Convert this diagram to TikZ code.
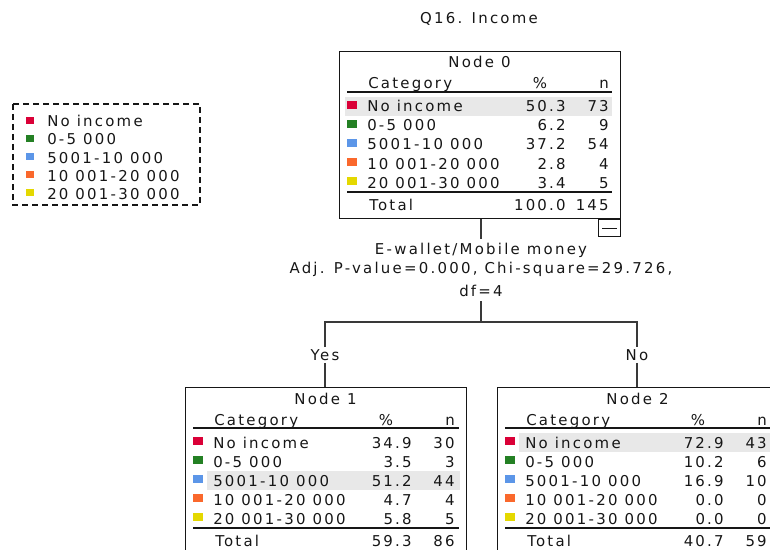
\documentclass[tikz,border=0pt]{standalone}
\usepackage{fontspec}
\newfontfamily\spssfont{DejaVu Sans}[LetterSpace=15]
\usetikzlibrary{positioning}

\definecolor{cNo}{RGB}{218,0,55}
\definecolor{cLow}{RGB}{36,128,36}
\definecolor{cMid}{RGB}{92,150,232}
\definecolor{cHigh}{RGB}{250,104,44}
\definecolor{cTop}{RGB}{228,216,0}
\definecolor{hl}{RGB}{232,232,232}
\definecolor{ink}{RGB}{22,22,22}

\tikzset{
    txt/.style={font=\spssfont\fontsize{11.2}{12}\selectfont, text=ink, inner sep=0pt},
    lab/.style={txt, anchor=base west},
    num/.style={txt, anchor=base east},
    mid/.style={txt, anchor=base},
    rule/.style={draw=ink, line width=1pt},
    link/.style={draw=ink!85, line width=1.1pt},
    treebox/.style={draw=ink, line width=1pt, inner sep=0pt, anchor=north west,
        minimum width=210.75pt, minimum height=125.25pt},
}

\begin{document}
\begin{tikzpicture}[x=0.75pt, y=-0.75pt]
    \useasboundingbox (0,0) rectangle (770,549);

    %%title
    \node[mid] (title) at (479,24) {Q16. Income};

    %%legend
    \draw[ink, line width=0.8pt, dash pattern=on 4.5pt off 3pt] (13,104) rectangle (200,205);
    \fill[cNo] (26,117) rectangle (34,124);
    \node[lab] (lg1) at (47,127) {No income};
    \fill[cLow] (26,135) rectangle (34,142);
    \node[lab] (lg2) at (47,145) {0-5 000};
    \fill[cMid] (26,153) rectangle (34,160);
    \node[lab] (lg3) at (47,163) {5001-10 000};
    \fill[cHigh] (26,171) rectangle (34,178);
    \node[lab] (lg4) at (47,181) {10 001-20 000};
    \fill[cTop] (26,189) rectangle (34,196);
    \node[lab] (lg5) at (47,199) {20 001-30 000};

    %%N0
    \node[treebox] (n0) at (339,51) {};
    \begin{scope}[shift={(339,51)}]
        \fill[hl] (6,46) rectangle (273,65);
        \node[mid] (n0t) at (140.5,17) {Node 0};
        \node[lab] (n0hc) at (29,38) {Category};
        \node[mid] (n0hp) at (201,38) {\%};
        \node[num] (n0hn) at (270,38) {n};
            \draw[rule] (8,41) to (273,41);
        \fill[cNo] (8,50) rectangle (18,58);
        \node[lab] (n0l1) at (28,61) {No income};
        \node[num] (n0p1) at (227,61) {50.3};
        \node[num] (n0n1) at (270,61) {73};
        \fill[cLow] (8,69) rectangle (18,77);
        \node[lab] (n0l2) at (28,80) {0-5 000};
        \node[num] (n0p2) at (227,80) {6.2};
        \node[num] (n0n2) at (270,80) {9};
        \fill[cMid] (8,88) rectangle (18,96);
        \node[lab] (n0l3) at (28,99) {5001-10 000};
        \node[num] (n0p3) at (227,99) {37.2};
        \node[num] (n0n3) at (270,99) {54};
        \fill[cHigh] (8,107) rectangle (18,115);
        \node[lab] (n0l4) at (28,118) {10 001-20 000};
        \node[num] (n0p4) at (227,118) {2.8};
        \node[num] (n0n4) at (270,118) {4};
        \fill[cTop] (8,126) rectangle (18,134);
        \node[lab] (n0l5) at (28,137) {20 001-30 000};
        \node[num] (n0p5) at (227,137) {3.4};
        \node[num] (n0n5) at (270,137) {5};
            \draw[rule] (8,141) to (273,141);
        \node[lab] (n0tl) at (30,159) {Total};
        \node[num] (n0tp) at (227,159) {100.0};
        \node[num] (n0tn) at (270,159) {145};
    \end{scope}
    \node[draw=ink, line width=0.8pt, inner sep=0pt, minimum width=17pt, minimum height=12.5pt,
        anchor=north east] (n0min) at (n0.south east) {};
        \draw[ink, line width=0.8pt] ([xshift=3.5pt]n0min.west) to ([xshift=-3.5pt]n0min.east);

    %%split
    \node[txt, align=center, inner ysep=3pt, font=\spssfont\fontsize{11.2}{14.25}\selectfont]
        (split) at (481,270) {E-wallet/Mobile money\\Adj. P-value=0.000, Chi-square=29.726,\\[3pt]df=4};
    \coordinate (fork) at (481,322);
    \node[txt, inner ysep=1.5pt] (yes) at (325,355) {Yes};
    \node[txt, inner ysep=1.5pt] (no) at (637,355) {No};

    %%N1
    \node[treebox] (n1) at (185,387) {};
    \begin{scope}[shift={(185,387)}]
        \fill[hl] (22,84) rectangle (275,103);
        \node[mid] (n1t) at (140.5,17) {Node 1};
        \node[lab] (n1hc) at (29,38) {Category};
        \node[mid] (n1hp) at (201,38) {\%};
        \node[num] (n1hn) at (270,38) {n};
            \draw[rule] (8,41) to (274,41);
        \fill[cNo] (8,50) rectangle (18,58);
        \node[lab] (n1l1) at (28,61) {No income};
        \node[num] (n1p1) at (227,61) {34.9};
        \node[num] (n1n1) at (270,61) {30};
        \fill[cLow] (8,69) rectangle (18,77);
        \node[lab] (n1l2) at (28,80) {0-5 000};
        \node[num] (n1p2) at (227,80) {3.5};
        \node[num] (n1n2) at (270,80) {3};
        \fill[cMid] (8,88) rectangle (18,96);
        \node[lab] (n1l3) at (28,99) {5001-10 000};
        \node[num] (n1p3) at (227,99) {51.2};
        \node[num] (n1n3) at (270,99) {44};
        \fill[cHigh] (8,107) rectangle (18,115);
        \node[lab] (n1l4) at (28,118) {10 001-20 000};
        \node[num] (n1p4) at (227,118) {4.7};
        \node[num] (n1n4) at (270,118) {4};
        \fill[cTop] (8,126) rectangle (18,134);
        \node[lab] (n1l5) at (28,137) {20 001-30 000};
        \node[num] (n1p5) at (227,137) {5.8};
        \node[num] (n1n5) at (270,137) {5};
            \draw[rule] (8,141) to (274,141);
        \node[lab] (n1tl) at (30,159) {Total};
        \node[num] (n1tp) at (227,159) {59.3};
        \node[num] (n1tn) at (270,159) {86};
    \end{scope}

    %%N2
    \node[treebox] (n2) at (497,387) {};
    \begin{scope}[shift={(497,387)}]
        \fill[hl] (22,46) rectangle (275,65);
        \node[mid] (n2t) at (140.5,17) {Node 2};
        \node[lab] (n2hc) at (29,38) {Category};
        \node[mid] (n2hp) at (201,38) {\%};
        \node[num] (n2hn) at (270,38) {n};
            \draw[rule] (8,41) to (274,41);
        \fill[cNo] (8,50) rectangle (18,58);
        \node[lab] (n2l1) at (28,61) {No income};
        \node[num] (n2p1) at (227,61) {72.9};
        \node[num] (n2n1) at (270,61) {43};
        \fill[cLow] (8,69) rectangle (18,77);
        \node[lab] (n2l2) at (28,80) {0-5 000};
        \node[num] (n2p2) at (227,80) {10.2};
        \node[num] (n2n2) at (270,80) {6};
        \fill[cMid] (8,88) rectangle (18,96);
        \node[lab] (n2l3) at (28,99) {5001-10 000};
        \node[num] (n2p3) at (227,99) {16.9};
        \node[num] (n2n3) at (270,99) {10};
        \fill[cHigh] (8,107) rectangle (18,115);
        \node[lab] (n2l4) at (28,118) {10 001-20 000};
        \node[num] (n2p4) at (227,118) {0.0};
        \node[num] (n2n4) at (270,118) {0};
        \fill[cTop] (8,126) rectangle (18,134);
        \node[lab] (n2l5) at (28,137) {20 001-30 000};
        \node[num] (n2p5) at (227,137) {0.0};
        \node[num] (n2n5) at (270,137) {0};
            \draw[rule] (8,141) to (274,141);
        \node[lab] (n2tl) at (30,159) {Total};
        \node[num] (n2tp) at (227,159) {40.7};
        \node[num] (n2tn) at (270,159) {59};
    \end{scope}

    %%links
    \draw[link] (split.north |- n0.south) to (split.north);
    \draw[link] (split.south) to (fork);
    \draw[link] (yes.north) |- (fork) -| (no.north);
    \draw[link] (yes.south) to (yes.south |- n1.north);
    \draw[link] (no.south) to (no.south |- n2.north);

\end{tikzpicture}
\end{document}
